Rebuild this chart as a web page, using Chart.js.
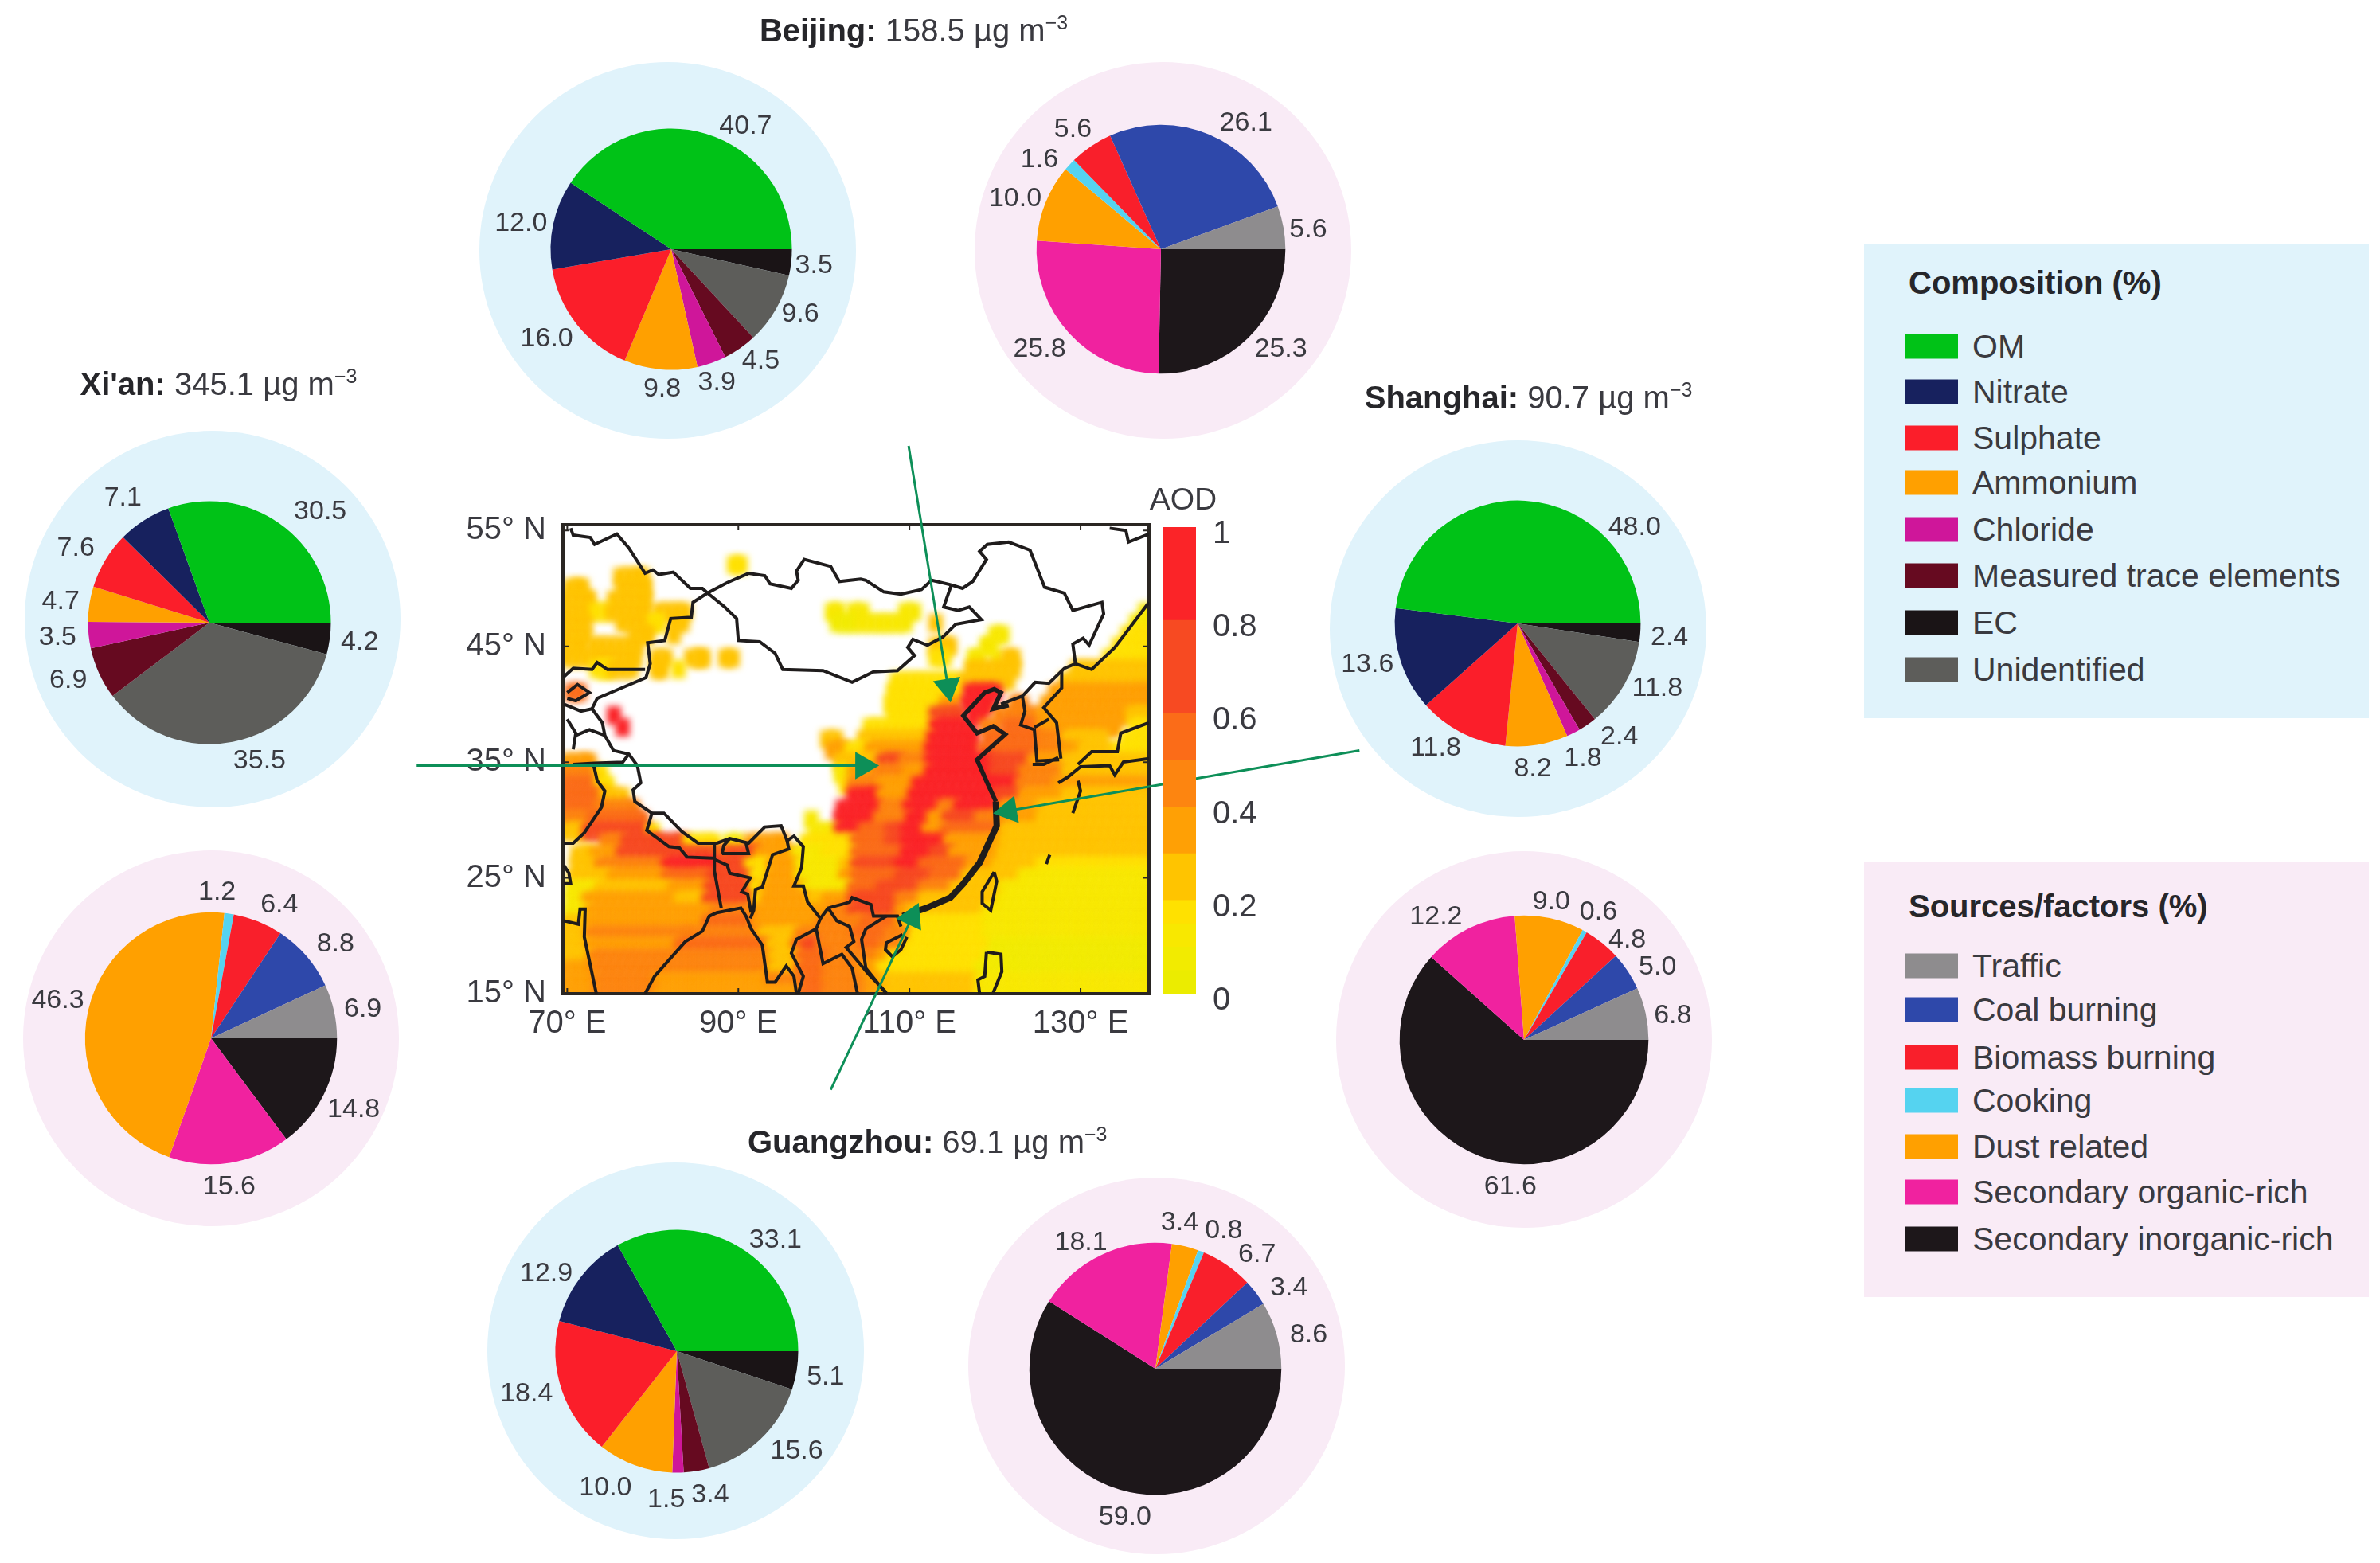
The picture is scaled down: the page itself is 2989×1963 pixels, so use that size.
<!DOCTYPE html>
<html>
<head>
<meta charset="utf-8">
<title>PM2.5 composition and sources</title>
<script src="https://cdn.jsdelivr.net/npm/chart.js@4/dist/chart.umd.min.js"></script>
<style>
    html, body { margin: 0; background: #fff; }
    body { position: relative; width: 2989px; height: 1963px; overflow: hidden;
           font-family: "Liberation Sans", Arial, sans-serif; color: #3a3a40; }
    canvas { position: absolute; }
    .disc, .panel, .city, .item, .swatch, .aod { position: absolute; }
    .disc { border-radius: 50%; }
    .city { font-size: 40px; white-space: nowrap; transform: translate(-50%, -50%); }
    .city b { color: #26262a; }
    .city sup { font-size: 25px; line-height: 0; }
    .panel-title { position: absolute; font-size: 40px; font-weight: bold; color: #26262a; white-space: nowrap; transform: translateY(-50%); }
    .item { font-size: 41px; white-space: nowrap; transform: translateY(-50%); }
    .swatch { width: 66px; height: 31px; transform: translateY(-50%); }
    .aod { font-size: 39px; transform: translate(-50%, -50%); }
</style>
</head>
<body>
<canvas id="map" width="2989" height="1963" style="left:0;top:0"></canvas>
<canvas id="colorbar" width="140" height="640" style="left:1460px;top:640px"></canvas>
<div class="aod" style="left:1486px;top:627px">AOD</div>
<script>
// reference coordinates below at 1568 px wide
const S = 2989 / 1568;

// legends
const compositionLabels = ['OM', 'Nitrate', 'Sulphate', 'Ammonium', 'Chloride', 'Measured trace elements', 'EC', 'Unidentified'];
const compositionColors = ['#00c217', '#17215e', '#fb1e2a', '#ffa000', '#cf169a', '#660a20', '#1a1416', '#5d5d5a'];
const sourceLabels = ['Traffic', 'Coal burning', 'Biomass burning', 'Cooking', 'Dust related', 'Secondary organic-rich', 'Secondary inorganic-rich'];
const sourceColors = ['#8e8c8e', '#2e48aa', '#f91f2b', '#55d3f0', '#ffa000', '#f0229f', '#1d171a'];

// slices go anticlockwise from east in the picture
const pieOrderComposition = ['OM', 'Nitrate', 'Sulphate', 'Ammonium', 'Chloride', 'Measured trace elements', 'Unidentified', 'EC'];
const beijingComposition = [40.7, 12.0, 16.0, 9.8, 3.9, 4.5, 9.6, 3.5];
const xianComposition = [30.5, 7.1, 7.6, 4.7, 3.5, 6.9, 35.5, 4.2];
const shanghaiComposition = [48.0, 13.6, 11.8, 8.2, 1.8, 2.4, 11.8, 2.4];
const guangzhouComposition = [33.1, 12.9, 18.4, 10.0, 1.5, 3.4, 15.6, 5.1];
const beijingSources = [5.6, 26.1, 5.6, 1.6, 10.0, 25.8, 25.3];
const xianSources = [6.9, 8.8, 6.4, 1.2, 46.3, 15.6, 14.8];
const shanghaiSources = [6.8, 5.0, 4.8, 0.6, 9.0, 12.2, 61.6];
const guangzhouSources = [8.6, 3.4, 6.7, 0.8, 3.4, 18.1, 59.0];

// map axes
const lonTicks = [70, 90, 110, 130];
const latTicks = [15, 25, 35, 45, 55];
const aodTicks = [0, 0.2, 0.4, 0.6, 0.8, 1];
const aodBands = [[0, 0.05], [0.05, 0.1], [0.1, 0.15], [0.15, 0.2], [0.2, 0.3], [0.3, 0.4], [0.4, 0.5], [0.5, 0.6], [0.6, 0.8], [0.8, 1]];
const aodColors = ['#ebec00', '#f2eb00', '#f8e800', '#ffe100', '#ffc400', '#ffa005', '#fd8510', '#fb6c18', '#f74a22', '#fb2428'];

// AOD read by eye, one list per degree of latitude from 55 N down to 15 N: [fromLon, toLon, aod]
const aodRows = [
    [],
    [],
    [],
    [[89, 90.6, .15]],
    [[75.7, 79.1, .25]],
    [[69.8, 72, .25], [76, 79.4, .27]],
    [[69.6, 72.9, .27], [75, 79.4, .27]],
    [[69.6, 72.9, .27], [72.9, 74.8, .18], [74.8, 79.4, .27], [80.3, 84, .27], [100.5, 102, .1], [103, 105, .1], [109, 111, .12], [137, 138, .13]],
    [[69.6, 72.3, .27], [76, 79.7, .27], [79.7, 81, .15], [82, 84, .2], [101, 104, .08], [104, 110, .1], [112.6, 113.5, .22], [136, 138, .14]],
    [[69.6, 72.6, .27], [77.5, 79.7, .27], [81.9, 82.8, .22], [119.5, 121.2, .12], [135, 138, .15]],
    [[69.6, 72, .27], [72.6, 78.5, .27], [112.6, 115, .2], [118.5, 119.8, .13], [134, 138, .15]],
    [[69.6, 78.2, .27], [80, 82, .25], [84, 86.2, .2], [88, 89.6, .2], [112.6, 114.5, .15], [117, 118.5, .12], [119.8, 120.5, .12], [121, 122.5, .22], [132.8, 138, .17]],
    [[72.9, 75, .18], [75, 78, .25], [80, 81.3, .2], [82.5, 83.5, .15], [116.7, 122.5, .22], [129, 138, .2]],
    [[108, 116, .15], [116, 122, .25], [127.8, 138, .25]],
    [[70, 72, .5], [107.6, 116, .15], [116.6, 120.3, .9], [126.5, 138, .3]],
    [[107.3, 113.8, .15], [113.8, 115.5, .35], [116.3, 119.4, .9], [122, 123.4, .4], [125.6, 138, .33]],
    [[75, 76, .85], [107.6, 112.6, .17], [112.6, 116, .7], [117, 119, .9], [120, 125, .45], [125, 127, .33], [127, 135.5, .35], [135.5, 138, .25]],
    [[76, 77, .85], [104.8, 112.6, .18], [112.6, 117.3, .9], [118.5, 120.5, .45], [121, 125, .5], [125, 127.8, .33], [127.8, 134.3, .33], [136, 138, .15]],
    [[99.9, 101.8, .25], [104.2, 112.3, .25], [112.3, 117.6, .9], [118.8, 125, .5], [125, 128, .4], [128, 133, .27], [135, 138, .15]],
    [[100.5, 102.7, .35], [102.7, 105, .15], [105, 112, .3], [112, 117.6, .9], [118.2, 125, .55], [125, 128, .4], [128, 130, .3], [130, 134, .2], [134, 138, .15]],
    [[69.5, 72.9, .3], [101.5, 103, .2], [103, 106.4, .25], [106.4, 109, .65], [109, 112, .45], [112, 119.5, .88], [119.5, 124, .7], [124, 128, .3], [128, 138, .22]],
    [[69.5, 73.5, .45], [73.5, 74.5, .15], [101.5, 103, .12], [103, 106, .3], [106, 109.5, .45], [109.5, 112, .35], [112, 119.5, .9], [119.5, 123, .75], [123, 128, .4], [128, 138, .22]],
    [[69.5, 73.5, .5], [73.5, 75, .15], [102, 103, .15], [103, 106.4, .4], [106.4, 110.5, .3], [110.5, 120, .9], [120, 122.6, .8], [122.6, 127, .42], [127, 138, .3]],
    [[69.5, 74, .5], [74, 77, .25], [103, 106.4, .9], [106.4, 110, .3], [110, 120, .85], [120, 123, .65], [123, 128, .35], [128, 138, .28]],
    [[69.5, 73.5, .5], [73.5, 78, .42], [101.7, 106.7, .9], [106.7, 109.5, .45], [109.5, 113.5, .88], [113.5, 115.4, .4], [115.4, 120.5, .8], [120.5, 125, .35], [125, 138, .28]],
    [[69.5, 72.5, .42], [72.5, 79, .5], [98, 99, .12], [101.5, 106, .88], [106, 109.8, .45], [109.8, 112.3, .85], [112.3, 114, .35], [114, 117.9, .6], [117.9, 120.5, .45], [120.5, 125, .33], [125, 138, .28]],
    [[69.5, 72, .28], [72, 79.5, .6], [79.5, 80.5, .15], [98.5, 101.5, .12], [101.5, 104.3, .8], [104.3, 107.3, .5], [107.3, 109.2, .6], [109.2, 111.7, .85], [111.7, 113.9, .3], [113.9, 120.7, .55], [120.7, 138, .27]],
    [[74, 76.5, .45], [76.5, 80.7, .7], [80.7, 83.8, .6], [83.8, 87.5, .15], [88.5, 90.5, .1], [91, 95.5, .3], [97.5, 103.3, .15], [103.3, 107.3, .55], [107.3, 109.2, .7], [109.2, 114.2, .8], [114.2, 120.7, .3], [120.7, 131.3, .27], [131.3, 138, .25]],
    [[70.7, 73, .25], [73, 76, .38], [76, 80.7, .65], [80.7, 87.5, .75], [87.5, 89, .55], [89, 92.1, .6], [92.1, 96.5, .3], [96.5, 100, .12], [100, 103.3, .15], [103.3, 109.2, .55], [109.2, 112.6, .85], [112.6, 114.8, .75], [114.8, 120.4, .35], [120.4, 134.3, .25], [134.3, 138, .2]],
    [[70.7, 73.5, .2], [73.5, 81.3, .4], [81.3, 87.5, .8], [87.5, 91, .7], [91, 93.5, .15], [93.5, 96.8, .3], [96.8, 102, .13], [102, 103.3, .2], [103.3, 108.6, .6], [108.6, 111.3, .85], [111.3, 116.7, .55], [116.7, 119.8, .3], [119.8, 125, .25], [125, 138, .17]],
    [[70.4, 75, .2], [75, 81.3, .35], [81.3, 86.5, .55], [86.5, 91.5, .7], [91.5, 93.5, .15], [93.5, 96.8, .32], [96.8, 102, .12], [102, 103.3, .3], [103.3, 108.6, .55], [108.6, 112.6, .7], [112.6, 116.3, .55], [116.3, 123, .22], [123, 138, .13]],
    [[70, 73.5, .12], [73.5, 82, .28], [82, 86.2, .38], [86.2, 91.5, .7], [91.5, 92.8, .15], [92.8, 97.7, .33], [97.7, 103, .12], [103, 106.4, .55], [106.4, 111.3, .6], [111.3, 115, .4], [115, 120.7, .22], [120.7, 138, .13]],
    [[70, 72, .12], [72, 82.8, .3], [82.8, 86, .25], [86, 91.8, .65], [91.8, 92.8, .15], [92.8, 98.4, .33], [98.4, 100, .2], [100, 103, .3], [103, 105.2, .65], [105.2, 108.6, .7], [108.6, 111.3, .45], [111.3, 120.4, .22], [120.4, 138, .12]],
    [[69.8, 72.3, .12], [72.3, 87, .3], [87, 91.5, .45], [91.5, 100.8, .3], [100.8, 103, .4], [103, 104.9, .7], [104.9, 108.6, .65], [108.6, 110, .3], [110, 118.8, .2], [118.8, 138, .12]],
    [[69.6, 72.3, .2], [72.3, 86, .33], [86, 91.8, .5], [91.8, 99.3, .3], [99.3, 104.5, .4], [104.5, 108.6, .5], [108.6, 109.5, .3], [109.5, 118.8, .18], [118.8, 138, .12]],
    [[69.5, 72.3, .28], [72.3, 84.4, .4], [84.4, 92.5, .48], [92.5, 96.8, .25], [96.8, 103.3, .4], [103.3, 107.3, .5], [107.3, 110.2, .4], [110.2, 118.8, .17], [118.8, 138, .1]],
    [[69.5, 72.3, .25], [72.3, 82.8, .38], [82.8, 93.4, .5], [93.4, 96.5, .2], [96.5, 97.8, .5], [97.8, 99.3, .6], [99.3, 104.3, .42], [104.3, 106.7, .5], [106.7, 109.5, .4], [109.5, 119.5, .17], [119.5, 138, .09]],
    [[69.5, 72.6, .28], [72.6, 81.3, .42], [81.3, 93.7, .45], [93.7, 96.8, .2], [96.8, 100.5, .5], [100.5, 103, .45], [103, 106.4, .4], [106.4, 107.6, .3], [107.6, 118.8, .17], [118.8, 138, .09]],
    [[69.5, 72.9, .3], [72.9, 81.3, .42], [81.3, 93.7, .45], [93.7, 96.8, .22], [96.8, 100, .5], [100, 104.3, .4], [104.3, 106.4, .3], [106.4, 117.9, .18], [117.9, 138, .09]],
    [[69.5, 73.2, .3], [73.2, 80.3, .4], [80.3, 93.4, .35], [93.4, 97.3, .42], [97.3, 100, .55], [100, 105, .4], [105, 107, .3], [107, 117.9, .2], [117.9, 138, .1]],
    [[69.5, 73.2, .3], [73.2, 80.3, .4], [80.3, 97.3, .33], [97.3, 100, .55], [100, 105, .4], [105, 107, .3], [107, 117.9, .2], [117.9, 138, .1]]
];

// borders and coasts, [lon, lat]
const kazRussia = [[70.4, 55.2], [70.7, 54.6], [72.7, 54.4], [73.2, 53.8], [75.8, 54.7], [77.2, 53.5], [79.1, 51.3], [80, 51.6], [80.7, 51.2], [82.4, 51.4], [84.4, 50], [85.8, 50], [86.4, 49.6]];
const mongoliaNorth = [[86.4, 49.6], [88.7, 50.5], [91.2, 51.3], [93.1, 51.1], [93.7, 50.4], [96.2, 50], [97, 50.7], [96.8, 51.5], [97.7, 52.5], [100.8, 51.9], [101.8, 50.6], [104.3, 50.8], [104.9, 50.7], [107, 49.7], [109, 49.5], [111.4, 49.9], [112.6, 50.7], [114.9, 50.3]];
const mongoliaSouth = [[114.9, 50.3], [114, 48.4], [115.7, 48.1], [117, 48.4], [118.4, 47.3], [115.4, 46.9], [113.9, 45.8], [112.1, 45.1], [110.4, 45.6], [109.8, 44.9], [110.6, 44.2], [108.6, 42.9], [105.8, 42.8], [103.3, 41.9], [99.9, 42.9], [95.2, 43], [94.3, 44.4], [92.5, 45.4], [90, 45.5], [89.8, 47.4], [88.4, 48.4], [86.4, 49.6]];
const chinaNortheast = [[114.9, 50.3], [116.2, 50], [117.4, 50.6], [119, 52.5], [118.2, 53.2], [119.1, 53.8], [121.6, 54], [124.1, 53.3], [125.8, 50.1], [128.1, 49.6], [129.1, 48.1], [132.5, 48.8], [132.7, 47.8], [131, 45.1], [130.3, 45.7], [129.1, 45.2], [129.4, 43.5], [128.1, 43.1], [126.3, 41.8], [124.7, 41.9], [123.2, 40.7], [120.7, 40]];
const chinaWest = [[86.4, 49.6], [84.7, 48.8], [84.5, 47.5], [82.1, 47.4], [81.4, 45.5], [79.4, 45.3], [79.7, 43.5], [79.2, 42.3], [75.7, 41.2], [73.5, 40.5], [72.9, 39.6], [74.1, 38.4], [74.4, 37.3], [75.4, 36], [77.2, 35.7], [78.2, 34.7], [78.6, 33.2], [77.7, 32.6], [77.9, 31.6], [79.9, 30.6], [81.3, 30.6], [83.4, 29], [85.3, 28], [87.5, 28], [89, 28.4], [91.2, 28], [93.1, 29.4], [95, 29.5], [95.7, 28.2], [96.5, 28.6], [97.6, 27.7], [97.4, 25.9], [96.5, 24.3], [97.6, 24.3], [98.1, 22.9], [99.6, 21.5]];
const bohaiCoast = [[121.6, 39.9], [119.8, 39.6], [120.7, 41], [119.9, 41.3], [118.8, 41], [116.3, 39], [117.9, 37.5], [119.8, 38.1], [121.2, 37.4], [117.9, 35.2], [119.1, 33.2], [120.1, 31.6]];
const southChinaCoast = [[120.1, 31.6], [120.2, 29.5], [118.2, 26.3], [116.3, 24.5], [114.8, 23.3], [112, 22.4], [109.2, 21.7]];
const russiaCoast = [[129.4, 43.5], [131.3, 43], [134, 44.9], [138, 48.8]];
const farNorthEast = [[133.4, 55.2], [135.3, 55], [135.6, 54], [138, 54.7]];
const koreaWest = [[123.2, 40.7], [123.5, 39.4], [123, 38.2], [124.6, 37.8], [124.9, 35.1], [127.5, 35.2]];
const koreaEast = [[127.8, 43], [127.8, 41.4], [125.7, 39.7], [127.2, 38.4], [127.7, 35.3]];
const koreaMiddle = [[124.6, 38], [126.3, 38.7]];
const japanSeaCoast = [[129.7, 34.8], [131.3, 35.9], [134.3, 35.9], [134.7, 37.5], [138, 38.4]];
const japanSouth = [[127.4, 33.2], [128.5, 33.7], [130, 34.6], [133.4, 34.7], [134, 33.9], [135, 35], [138, 35.3]];
const kyushu = [[129.7, 33.4], [130, 32.5], [129.1, 30.6]];
const koreaStrait = [[124.4, 34.8], [125.7, 34.8], [127.4, 35.4]];
const ryukyu = [[126, 26.2], [126.4, 27]];
const taiwan = [[119.9, 25.5], [120.2, 24.7], [119.5, 22.2], [118.5, 22.8], [118.5, 23.8], [119.9, 25.5]];
const philippinesEast = [[119, 18.6], [120.7, 18.4], [120.8, 16.9], [119.8, 15.1]];
const philippinesWest = [[119, 18.6], [118.8, 16.5], [118, 16.2], [118.2, 15]];
const hainan = [[109.2, 20.1], [107.3, 19.4], [107.2, 18.8], [108, 18.2], [109, 18.8], [109.7, 19.9]];
const kazKyrgyz = [[69.5, 42.3], [70.7, 43.1], [72.9, 43], [73.5, 43.6], [74.7, 43], [79.1, 43]];
const fergana = [[70, 41], [71.2, 41.7], [72.6, 41], [71, 40.3], [70, 40.5]];
const tajikNorth = [[69.6, 40], [71.6, 39.4], [72.9, 39.6]];
const tajikWest = [[70, 38.7], [71, 37.5], [70.7, 36.1]];
const wakhan = [[71, 37.3], [72.6, 37.8], [74.4, 37.3]];
const kashmir = [[70.7, 34.8], [73.2, 34.9], [76.5, 35], [77.2, 35.7]];
const indiaPakistan = [[73.1, 34.7], [73.5, 33.4], [74.4, 32.5], [74, 31.1], [72, 28.9], [70.7, 28], [69.6, 28]];
const kutch = [[69.6, 26.1], [70.2, 25.4], [70.4, 24.5], [69.6, 24.5]];
const indiaWest = [[69.6, 21.3], [71.3, 21], [71.5, 22.3], [72.1, 22.3], [72, 19.9], [73.4, 15]];
const nepal = [[79.9, 30.6], [79.3, 29.1], [81.9, 27.7], [83.1, 27.6], [84, 26.8], [87, 26.7]];
const sikkim = [[87.2, 28], [87.2, 25.6], [88, 22.4]];
const bangladesh = [[87.2, 26.6], [88.7, 26.1], [89, 25.4], [91.4, 25], [90.4, 23.8], [91.1, 23.6], [91.5, 22]];
const bhutan = [[88.1, 27.1], [91.2, 27.1], [90.9, 28]];
const bhutanWest = [[88.1, 27.1], [88.3, 27.8], [89, 28.4]];
const bayOfBengal = [[79.1, 15], [80.2, 16.5], [83.8, 19.5], [85.8, 20.4], [86.6, 21.7], [87.5, 22], [90.3, 22.4], [90.9, 21.7], [91.5, 20.6], [92.8, 19.2], [93.4, 16], [94.3, 16], [95.6, 17.4], [96.5, 16.5], [96.8, 15]];
const myanmarIndia = [[95.7, 28.2], [95.9, 27.5], [94, 27], [92.8, 24.2], [92, 24], [91.8, 22.2], [91.4, 21.5]];
const myanmarThai = [[99.6, 21.5], [99.1, 20.6], [96.8, 19.7], [96.2, 18.5], [97.6, 16.5], [97, 15]];
const laosNorth = [[99.6, 21.5], [100.5, 22.4], [103, 22.9], [103.3, 23.3], [105.5, 22.7], [105.8, 21.7], [108.6, 21.7], [109, 20.8]];
const laosInner = [[100.5, 22.4], [101.5, 21.3], [103, 20.8], [103.5, 19.5], [102.6, 19], [105.2, 16.7], [107.3, 15.1]];
const thaiGulf = [[99.1, 20.6], [99.9, 17.6], [102.1, 18.4], [103.3, 17.2], [103.9, 15.1]];
const vietnamCoast = [[107.3, 21.7], [104.9, 20.6], [104.4, 19.7], [104.9, 17.2], [107.3, 15]];

const thinLines = [kazRussia, mongoliaNorth, mongoliaSouth, chinaNortheast, chinaWest, russiaCoast, farNorthEast, koreaWest, koreaEast, koreaMiddle, japanSeaCoast, japanSouth, kyushu, koreaStrait, ryukyu, taiwan, philippinesEast, philippinesWest, hainan, kazKyrgyz, fergana, tajikNorth, tajikWest, wakhan, kashmir, indiaPakistan, kutch, indiaWest, nepal, sikkim, bangladesh, bhutan, bhutanWest, bayOfBengal, myanmarIndia, myanmarThai, laosNorth, laosInner, thaiGulf, vietnamCoast];

// arrows from each city's pies to the city, [lon, lat] of tail and head
const beijingArrow = [[109.9, 62.3], [114.5, 41.5]];
const xianArrow = [[52.4, 34.7], [104.6, 34.7]];
const shanghaiArrow = [[162.6, 36], [121.6, 30.8]];
const guangzhouArrow = [[100.8, 6.7], [110.3, 21.6]];
const arrows = [beijingArrow, xianArrow, shanghaiArrow, guangzhouArrow];
const arrowTurns = [170.5, 90, -99.7, 25];

const FONT = '"Liberation Sans", Arial, sans-serif';
const TEXT = '#3a3a40';
const ARROW = '#0d8f58';

// page layout, positions in the 1568 wide reading of the picture
const discBlue = '#e0f3fb';
const discPink = '#f9ebf6';
const pieLayout = [
    { values: beijingComposition, kind: 'c', x: 442, y: 164, r: 79.5, disc: [440, 165, 124],
      at: [[491, 83], [343, 147], [360, 223], [436, 256], [472, 252], [501, 238], [527, 207], [536, 175]] },
    { values: beijingSources, kind: 's', x: 765, y: 164, r: 82, disc: [766, 165, 124],
      at: [[862, 151], [821, 81], [707, 85], [685, 105], [669, 131], [685, 230], [844, 230]] },
    { values: xianComposition, kind: 'c', x: 138, y: 410, r: 80, disc: [140, 408, 124],
      at: [[211, 337], [81, 328], [50, 361], [40, 396], [38, 420], [45, 448], [171, 501], [237, 423]] },
    { values: xianSources, kind: 's', x: 139, y: 684, r: 83, disc: [139, 684, 124],
      at: [[239, 665], [221, 622], [184, 596], [143, 588], [38, 659], [151, 782], [233, 731]] },
    { values: shanghaiComposition, kind: 'c', x: 1000, y: 411, r: 81, disc: [1000, 414, 124],
      at: [[1077, 348], [901, 438], [946, 493], [1010, 507], [1043, 500], [1067, 486], [1092, 454], [1100, 420]] },
    { values: shanghaiSources, kind: 's', x: 1004, y: 685, r: 82, disc: [1004, 685, 124],
      at: [[1102, 669], [1092, 637], [1072, 619], [1053, 601], [1022, 594], [946, 604], [995, 782]] },
    { values: guangzhouComposition, kind: 'c', x: 446, y: 890, r: 80, disc: [445, 890, 124],
      at: [[511, 817], [360, 839], [347, 918], [399, 980], [439, 988], [468, 985], [525, 956], [544, 907]] },
    { values: guangzhouSources, kind: 's', x: 761, y: 902, r: 83, disc: [762, 900, 124],
      at: [[862, 880], [849, 849], [828, 827], [806, 811], [777, 806], [712, 819], [741, 1000]] }
];

const cityTitles = [
    ['Beijing', '158.5', 602, 20],
    ["Xi'an", '345.1', 144, 253],
    ['Shanghai', '90.7', 1007, 262],
    ['Guangzhou', '69.1', 611, 752]
];

function addDiv(className, style, html) {
    const el = document.createElement('div');
    el.className = className;
    Object.assign(el.style, style);
    if (html !== undefined) el.innerHTML = html;
    document.body.appendChild(el);
    return el;
}

function bandColor(aod) {
    for (let i = 0; i < aodBands.length; i++) {
        if (aod < aodBands[i][1]) return aodColors[i];
    }
    return aodColors[aodColors.length - 1];
}

// one stamp per colour, a little larger than a cell so neighbours overlap
function makeStamp(color) {
    const c = document.createElement('canvas');
    c.width = 18;
    c.height = 23;
    const g = c.getContext('2d');
    g.fillStyle = color;
    g.fillRect(0, 0, c.width, c.height);
    return c;
}

function buildAodCells() {
    const cells = [];
    aodRows.forEach((row, j) => {
        row.forEach(span => {
            for (let lon = span[0]; lon < span[1]; lon += 1) {
                cells.push({ x: Math.min(lon + 0.5, span[1] - 0.3), y: 55 - j, aod: span[2] });
            }
        });
    });
    return cells;
}

function toPoints(line) {
    return line.map(p => ({ x: p[0], y: p[1] }));
}

function renderMap() {
    const stamps = {};
    aodColors.forEach(color => { stamps[color] = makeStamp(color); });
    const cells = buildAodCells();

    const datasets = [{
        label: 'AOD',
        data: cells,
        order: 5,
        showLine: false,
        pointRadius: 1,
        pointStyle: cells.map(c => stamps[bandColor(c.aod)])
    }];

    thinLines.forEach(line => {
        datasets.push({ data: toPoints(line), order: 4, showLine: true, borderColor: '#1f1c1c', borderWidth: 4, pointRadius: 0 });
    });
    datasets.push({ data: toPoints(bohaiCoast), order: 3, showLine: true, borderColor: '#1f1c1c', borderWidth: 5.5, pointRadius: 0 });
    datasets.push({ data: toPoints(southChinaCoast), order: 3, showLine: true, borderColor: '#1f1c1c', borderWidth: 8, pointRadius: 0 });

    arrows.forEach((line, i) => {
        datasets.push({
            data: toPoints(line),
            order: 1,
            clip: false,
            showLine: true,
            borderColor: ARROW,
            borderWidth: 3,
            pointStyle: 'triangle',
            pointRadius: [0, 20],
            pointRotation: [0, arrowTurns[i]],
            pointBackgroundColor: ARROW,
            pointBorderColor: ARROW,
            pointBorderWidth: 0
        });
    });

    const softCells = {
        id: 'softCells',
        beforeDatasetDraw(chart, args) {
            if (chart.data.datasets[args.index].label === 'AOD') {
                chart.ctx.save();
                chart.ctx.filter = 'blur(4px)';
            }
        },
        afterDatasetDraw(chart, args) {
            if (chart.data.datasets[args.index].label === 'AOD') chart.ctx.restore();
        }
    };

    const frame = {
        id: 'frame',
        afterDatasetDraw(chart, args) {
            // frame goes straight over the cells and under the arrows
            if (chart.data.datasets[args.index].label !== 'AOD') return;
            const a = chart.chartArea, ctx = chart.ctx;
            ctx.save();
            ctx.strokeStyle = '#2a2622';
            ctx.lineWidth = 4;
            ctx.strokeRect(a.left, a.top, a.right - a.left, a.bottom - a.top);
            ctx.lineWidth = 2;
            ctx.beginPath();
            lonTicks.forEach(v => {
                const x = chart.scales.x.getPixelForValue(v);
                ctx.moveTo(x, a.top); ctx.lineTo(x, a.top + 7);
                ctx.moveTo(x, a.bottom); ctx.lineTo(x, a.bottom - 7);
            });
            latTicks.forEach(v => {
                const y = chart.scales.y.getPixelForValue(v);
                ctx.moveTo(a.left, y); ctx.lineTo(a.left + 7, y);
                ctx.moveTo(a.right, y); ctx.lineTo(a.right - 7, y);
            });
            ctx.stroke();
            ctx.restore();
        }
    };

    new Chart(document.getElementById('map'), {
        type: 'scatter',
        data: { datasets },
        plugins: [softCells, frame],
        options: {
            responsive: false,
            animation: false,
            devicePixelRatio: 1,
            layout: { padding: { left: 547, top: 659, right: 1546, bottom: 655 } },
            plugins: { legend: { display: false }, tooltip: { enabled: false } },
            scales: {
                x: {
                    type: 'linear', min: 69.5, max: 138,
                    afterBuildTicks: s => { s.ticks = lonTicks.map(value => ({ value })); },
                    afterFit: s => { s.height = 60; },
                    grid: { display: false },
                    border: { display: false },
                    ticks: { color: TEXT, font: { family: FONT, size: 40 }, padding: 6, maxRotation: 0, autoSkip: false, callback: v => v + '\u00b0 E' }
                },
                y: {
                    type: 'linear', min: 15, max: 55.5,
                    afterBuildTicks: s => { s.ticks = latTicks.map(value => ({ value })); },
                    afterFit: s => { s.width = 160; },
                    grid: { display: false },
                    border: { display: false },
                    ticks: { color: TEXT, font: { family: FONT, size: 40 }, padding: 13, autoSkip: false, callback: v => v + '\u00b0 N' }
                }
            }
        }
    });
}

function renderColorbar() {
    new Chart(document.getElementById('colorbar'), {
        type: 'bar',
        data: {
            labels: ['AOD'],
            datasets: aodBands.map((band, i) => ({ data: [band], backgroundColor: aodColors[i], barPercentage: 1, categoryPercentage: 1 }))
        },
        options: {
            responsive: false,
            animation: false,
            devicePixelRatio: 1,
            layout: { padding: { top: 22, bottom: 32 } },
            plugins: { legend: { display: false }, tooltip: { enabled: false } },
            scales: {
                x: { stacked: true, display: false },
                y: {
                    position: 'right', min: 0, max: 1,
                    afterBuildTicks: s => { s.ticks = aodTicks.map(value => ({ value })); },
                    afterFit: s => { s.width = 98; s.paddingTop = 0; s.paddingBottom = 0; },
                    grid: { display: false },
                    border: { display: false },
                    ticks: { color: TEXT, font: { family: FONT, size: 40 }, padding: 13, labelOffset: 9, autoSkip: false, callback: v => String(v) }
                }
            }
        }
    });
}

function renderPie(pie) {
    const disc = pie.disc;
    const isComposition = pie.kind === 'c';
    addDiv('disc', {
        left: (disc[0] - disc[2]) * S + 'px',
        top: (disc[1] - disc[2]) * S + 'px',
        width: disc[2] * 2 * S + 'px',
        height: disc[2] * 2 * S + 'px',
        background: isComposition ? discBlue : discPink
    });

    const size = 560;
    const canvas = document.createElement('canvas');
    canvas.width = size;
    canvas.height = size;
    canvas.style.left = pie.x * S - size / 2 + 'px';
    canvas.style.top = pie.y * S - size / 2 + 'px';
    document.body.appendChild(canvas);

    const names = isComposition ? pieOrderComposition : sourceLabels;
    const colors = names.map(n => isComposition ? compositionColors[compositionLabels.indexOf(n)] : sourceColors[sourceLabels.indexOf(n)]);

    const valueText = {
        id: 'valueText',
        afterDraw(chart) {
            const ctx = chart.ctx;
            ctx.save();
            ctx.font = '34px ' + FONT;
            ctx.fillStyle = TEXT;
            ctx.textAlign = 'center';
            ctx.textBaseline = 'middle';
            pie.values.forEach((v, i) => {
                ctx.fillText(v.toFixed(1), (pie.at[i][0] - pie.x) * S + size / 2, (pie.at[i][1] - pie.y) * S + size / 2);
            });
            ctx.restore();
        }
    };

    // chart.js only runs clockwise, so hand the slices over back to front
    new Chart(canvas, {
        type: 'pie',
        data: {
            labels: names.slice().reverse(),
            datasets: [{
                data: pie.values.slice().reverse(),
                backgroundColor: colors.slice().reverse(),
                borderWidth: 0,
                radius: pie.r * S
            }]
        },
        plugins: [valueText],
        options: {
            responsive: false,
            animation: false,
            devicePixelRatio: 1,
            rotation: 90,
            layout: { padding: 0 },
            plugins: { legend: { display: false }, tooltip: { enabled: false } }
        }
    });
}

function renderTitles() {
    cityTitles.forEach(t => {
        addDiv('city', { left: t[2] * S + 'px', top: t[3] * S + 'px' },
            '<b>' + t[0] + ':</b> ' + t[1] + ' \u00b5g m<sup>\u22123</sup>');
    });
}

function renderPanel(title, labels, colors, box, titleY, rowYs) {
    addDiv('panel', { left: box[0] + 'px', top: box[1] + 'px', width: box[2] + 'px', height: box[3] + 'px', background: box[4] });
    addDiv('panel-title', { left: '2397px', top: titleY + 'px' }, title);
    labels.forEach((label, i) => {
        addDiv('swatch', { left: '2393px', top: rowYs[i] + 'px', background: colors[i] });
        addDiv('item', { left: '2477px', top: rowYs[i] + 'px' }, label);
    });
}

renderMap();
renderColorbar();
pieLayout.forEach(renderPie);
renderTitles();
renderPanel('Composition (%)', compositionLabels, compositionColors, [2341, 307, 634, 595, discBlue], 355, [435, 492, 550, 606, 665, 723, 782, 841]);
renderPanel('Sources/factors (%)', sourceLabels, sourceColors, [2341, 1082, 634, 547, discPink], 1138, [1213, 1268, 1328, 1382, 1440, 1497, 1556]);
</script>
</body>
</html>
